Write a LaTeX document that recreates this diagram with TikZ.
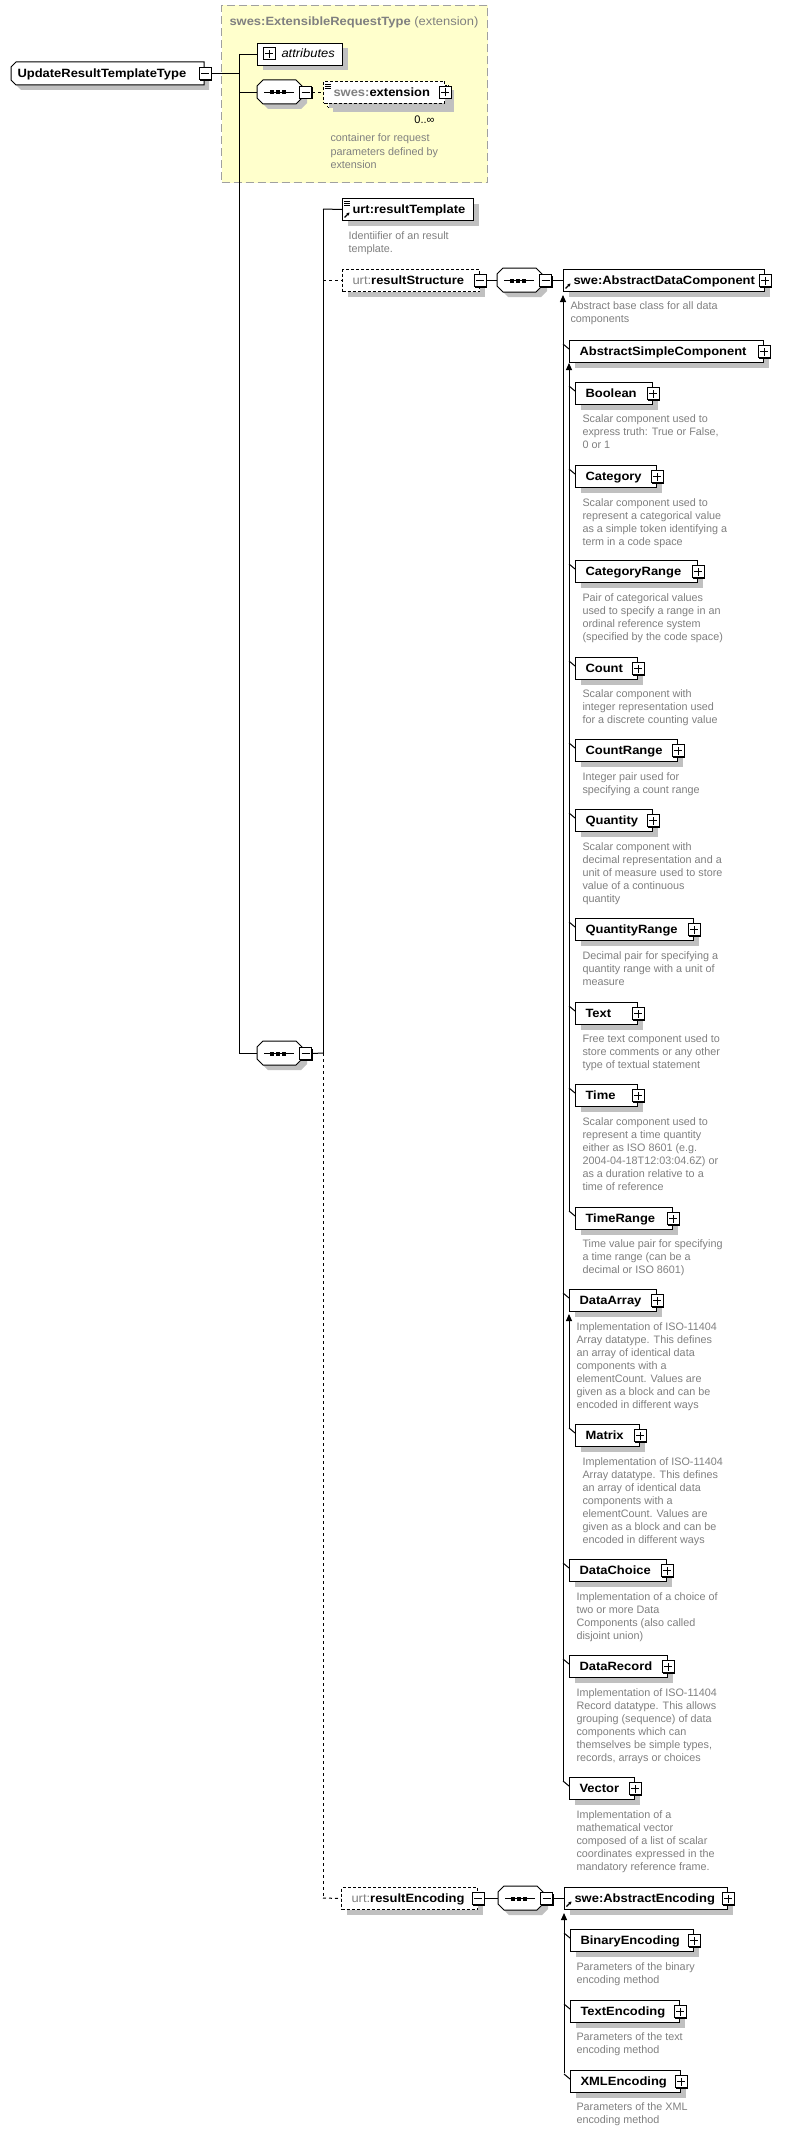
\documentclass[tikz,border=0pt]{standalone}
\usepackage{fontspec}
\setmainfont{Liberation Sans}
\newfontfamily\lblfont[FakeStretch=1.08]{Liberation Sans}
\usetikzlibrary{shadows,arrows.meta}
\definecolor{descgray}{RGB}{128,128,128}
\definecolor{shadowgray}{RGB}{192,192,192}
\definecolor{yel}{RGB}{255,255,204}
\definecolor{yelborder}{RGB}{160,160,160}
\hyphenpenalty=10000
\exhyphenpenalty=10000
\tikzset{
  sh/.style={drop shadow={shadow xshift=5pt,shadow yshift=-5pt,fill=shadowgray,opacity=1}},
  lbl/.style={font=\lblfont\fontsize{12}{14}\selectfont\bfseries},
  elbox/.style={draw=black, fill=white, sh, rectangle, minimum height=22pt, inner xsep=10pt, inner ysep=0pt, text height=9.5pt, text depth=2pt, align=left, lbl},
  optbox/.style={elbox, dash pattern=on 3pt off 2pt},
  pmsq/.style={draw=black, fill=white, minimum size=12pt, inner sep=0pt, rectangle, drop shadow={shadow xshift=1pt, shadow yshift=-1pt, fill=black, opacity=1}},
  desc/.style={text=descgray, font=\fontsize{10.8}{13}\selectfont, inner sep=0pt, anchor=base west},
  outline/.style={draw=black, fill=white, sh},
  optconn/.style={draw=black, dash pattern=on 3pt off 3pt},
  substline/.style={draw=black, -{Triangle[width=6pt,length=7pt]}},
}
\newcommand\elem[6][]{%
  \pgfmathsetmacro\elemtw{#5-20}%
  \node[elbox,minimum width=#5pt,text width=\elemtw pt,anchor=north west,#1] (#2) at (#3,#4) {\mbox{#6}};}
\newcommand\pmsign[3]{%
  \node[pmsq] (#1) at (#2) {};
  \draw[line width=1pt] ([xshift=2.5pt]#1.west) -- ([xshift=-2.5pt]#1.east);
  \ifnum#3=1 \draw[line width=1pt] ([yshift=2.5pt]#1.south) -- ([yshift=-2.5pt]#1.north);\fi}
\newcommand\desctext[4]{%
  \foreach \t [count=\i from 0] in {#4} {\node[desc] (#1\i) at (#2,{#3+13*\i}) {\t};}}
\newcommand\tickmark[1]{\draw ([shift={(-6,4)}]#1.north west) -- ([shift={(0,9)}]#1.north west);}
\newcommand\refarrow[1]{\draw[line width=1.2pt,-{Stealth[length=3pt,width=3.5pt]}] ([shift={(2.5,19.5)}]#1.north west) -- ([shift={(7.5,14.5)}]#1.north west);}
\newcommand\listicon[1]{\foreach \k in {0,2,4} {\draw[line width=0.8pt] ([shift={(2,3+\k)}]#1.north west) -- ([shift={(8,3+\k)}]#1.north west);}}
% sequence compositor: name, x, y (top-left); 45 x 24 octagon
\newcommand\seqnode[3]{%
  \path[outline] ({#2+6},#3) -- ({#2+39},#3) -- ({#2+45},{#3+6}) -- ({#2+45},{#3+18}) -- ({#2+39},{#3+24}) -- ({#2+6},{#3+24}) -- (#2,{#3+18}) -- (#2,{#3+6}) -- cycle;
  \node[minimum width=45pt, minimum height=24pt, inner sep=0pt, anchor=north west] (#1) at (#2,#3) {};
  \draw ([xshift=-16pt]#1.center) -- ([xshift=14pt]#1.center);
  \foreach \k in {-10,-4,2} {\fill ([xshift=\k pt,yshift=-2pt]#1.center) rectangle ++(4pt,4pt);}}
\begin{document}
\begin{tikzpicture}[x=1pt,y=-1pt,line width=1pt]
\fill[white] (0,0) rectangle (803,2130);
\useasboundingbox (0,0) rectangle (803,2130);

% extension base
\node[draw=yelborder, fill=yel, dash pattern=on 8pt off 4pt, minimum width=266pt, minimum height=177pt, inner sep=0pt, anchor=north west] (extbg) at (221,5) {};
\node[anchor=base west, text=descgray, lbl, inner sep=0pt] (exttitle) at (229,26) {swes:ExtensibleRequestType{\mdseries\ (extension)}};

% coordinates of main lines
\coordinate (v1top) at (239,54);
\coordinate (v1bot) at (239,1053);
\coordinate (v2top) at (323,209);
\coordinate (v2mid) at (323,1053);
\coordinate (v2bot) at (323,1898);
\draw (v1top) -- (v1bot);
\draw (v2top) -- (v2mid);
\draw[optconn] (v2mid) -- (v2bot);

% root
\path[outline] (16,62) -- (204,62) -- (204,85) -- (16,85) -- (11,80) -- (11,67) -- cycle;
\node[rectangle, minimum width=193pt, minimum height=23pt, inner xsep=6pt, inner ysep=0pt, text height=9.5pt, text depth=2pt, text width=181pt, align=left, lbl, anchor=north west] (root) at (11,62) {\mbox{UpdateResultTemplateType}};
\pmsign{rootpm}{root.east}{0}

% attributes
\node[elbox, minimum width=85pt, anchor=north west] (attr) at (257,43) {};
\node[anchor=base west, inner sep=0pt, font=\lblfont\fontsize{12}{14}\selectfont\itshape] (attrlbl) at (281,58) {attributes};
\node[draw=black, fill=white, minimum size=12pt, inner sep=0pt] (attrpm) at (269,54) {};
\draw ([xshift=2.5pt]attrpm.west) -- ([xshift=-2.5pt]attrpm.east);
\draw ([yshift=2.5pt]attrpm.south) -- ([yshift=-2.5pt]attrpm.north);

% sequence 1 and extension element
\seqnode{s1}{257}{80}
\pmsign{s1pm}{[xshift=2.5pt]s1.east}{0}
\node[optbox, minimum width=121pt, anchor=north west] (extback) at (327,85) {};
\elem[optbox, sh/.style={}]{ext}{323}{81}{121}{{\color{descgray}swes:}extension}
\pmsign{extpm}{ext.east}{1}
\listicon{ext}
\node[anchor=base east, inner sep=0pt, font=\fontsize{11}{13}\selectfont] (extocc) at (435,124) {0..∞};
\desctext{dext}{330}{142}{{container for request},{parameters defined by},{extension}}

% connectors top
\draw (rootpm.east) -- (rootpm.east -| v1top);
\draw (attr.west -| v1top) -- (attr.west);
\draw (s1.west -| v1top) -- (s1.west);
\draw[optconn] (s1pm.east) -- (ext.west);

% lower sequence
\seqnode{s3}{257}{1041}
\pmsign{s3pm}{[xshift=2.5pt]s3.east}{0}
\draw (s3.west -| v1top) -- (s3.west);
\draw (s3pm.east) -- (v2mid);

% resultTemplate
\elem{rt}{342}{198}{131}{urt:resultTemplate}
\listicon{rt}
\refarrow{rt}
\draw (v2top) -- (rt.west);
\desctext{drt}{348}{239}{{Identiifier of an result},{template.}}

% resultStructure
\elem[optbox]{rs}{342}{269}{137}{{\color{descgray}\mdseries urt:}resultStructure}
\pmsign{rspm}{rs.east}{0}
\draw[optconn] (rs.west -| v2top) -- (rs.west);
\seqnode{s2}{497}{268}
\pmsign{s2pm}{[xshift=2.5pt]s2.east}{0}
\draw (rspm.east) -- (s2.west);

% AbstractDataComponent
\elem{adc}{563}{269}{201}{swe:AbstractDataComponent}
\pmsign{adcpm}{adc.east}{1}
\refarrow{adc}
\draw (s2pm.east) -- (adc.west);
\desctext{dadc}{570}{309}{{Abstract base class for all data},{components}}

\coordinate (L1top) at (563,295);
\coordinate (L1bot) at (563,1781);
\draw[substline] (L1bot) -- (L1top);

% AbstractSimpleComponent
\elem{asc}{569}{340}{194}{AbstractSimpleComponent}
\pmsign{ascpm}{asc.east}{1}
\tickmark{asc}
\coordinate (L2top) at (569,363);
\coordinate (L2bot) at (569,1211);
\draw[substline] (L2bot) -- (L2top);

\elem{bool}{575}{382}{77}{Boolean}
\pmsign{boolpm}{bool.east}{1}\tickmark{bool}
\desctext{dbool}{582}{422}{{Scalar component used to},{express truth: True or False,},{0 or 1}}

\elem{cat}{575}{465}{81}{Category}
\pmsign{catpm}{cat.east}{1}\tickmark{cat}
\desctext{dcat}{582}{506}{{Scalar component used to},{represent a categorical value},{as a simple token identifying a},{term in a code space}}

\elem{catr}{575}{560}{122}{CategoryRange}
\pmsign{catrpm}{catr.east}{1}\tickmark{catr}
\desctext{dcatr}{582}{601}{{Pair of categorical values},{used to specify a range in an},{ordinal reference system},{(specified by the code space)}}

\elem{cnt}{575}{657}{62}{Count}
\pmsign{cntpm}{cnt.east}{1}\tickmark{cnt}
\desctext{dcnt}{582}{697}{{Scalar component with},{integer representation used},{for a discrete counting value}}

\elem{cntr}{575}{739}{102}{CountRange}
\pmsign{cntrpm}{cntr.east}{1}\tickmark{cntr}
\desctext{dcntr}{582}{780}{{Integer pair used for},{specifying a count range}}

\elem{qty}{575}{809}{77}{Quantity}
\pmsign{qtypm}{qty.east}{1}\tickmark{qty}
\desctext{dqty}{582}{850}{{Scalar component with},{decimal representation and a},{unit of measure used to store},{value of a continuous},{quantity}}

\elem{qtyr}{575}{918}{118}{QuantityRange}
\pmsign{qtyrpm}{qtyr.east}{1}\tickmark{qtyr}
\desctext{dqtyr}{582}{959}{{Decimal pair for specifying a},{quantity range with a unit of},{measure}}

\elem{txt}{575}{1002}{62}{Text}
\pmsign{txtpm}{txt.east}{1}\tickmark{txt}
\desctext{dtxt}{582}{1042}{{Free text component used to},{store comments or any other},{type of textual statement}}

\elem{tim}{575}{1084}{62}{Time}
\pmsign{timpm}{tim.east}{1}\tickmark{tim}
\desctext{dtim}{582}{1125}{{Scalar component used to},{represent a time quantity},{either as ISO 8601 (e.g.},{2004-04-18T12:03:04.6Z) or},{as a duration relative to a},{time of reference}}

\elem{timr}{575}{1207}{97}{TimeRange}
\pmsign{timrpm}{timr.east}{1}\tickmark{timr}
\desctext{dtimr}{582}{1247}{{Time value pair for specifying},{a time range (can be a},{decimal or ISO 8601)}}

% DataArray and Matrix
\elem{darr}{569}{1289}{87}{DataArray}
\pmsign{darrpm}{darr.east}{1}\tickmark{darr}
\desctext{ddarr}{576}{1330}{{Implementation of ISO-11404},{Array datatype. This defines},{an array of identical data},{components with a},{elementCount. Values are},{given as a block and can be},{encoded in different ways}}
\coordinate (L3top) at (569,1314);
\coordinate (L3bot) at (569,1428);
\draw[substline] (L3bot) -- (L3top);

\elem{mat}{575}{1424}{64}{Matrix}
\pmsign{matpm}{mat.east}{1}\tickmark{mat}
\desctext{dmat}{582}{1465}{{Implementation of ISO-11404},{Array datatype. This defines},{an array of identical data},{components with a},{elementCount. Values are},{given as a block and can be},{encoded in different ways}}

\elem{dch}{569}{1559}{97}{DataChoice}
\pmsign{dchpm}{dch.east}{1}\tickmark{dch}
\desctext{ddch}{576}{1600}{{Implementation of a choice of},{two or more Data},{Components (also called},{disjoint union)}}

\elem{drec}{569}{1655}{98}{DataRecord}
\pmsign{drecpm}{drec.east}{1}\tickmark{drec}
\desctext{ddrec}{576}{1696}{{Implementation of ISO-11404},{Record datatype. This allows},{grouping (sequence) of data},{components which can},{themselves be simple types,},{records, arrays or choices}}

\elem{vec}{569}{1777}{65}{Vector}
\pmsign{vecpm}{vec.east}{1}\tickmark{vec}
\desctext{dvec}{576}{1818}{{Implementation of a},{mathematical vector},{composed of a list of scalar},{coordinates expressed in the},{mandatory reference frame.}}

% resultEncoding
\elem[optbox]{re}{341}{1887}{136}{{\color{descgray}\mdseries urt:}resultEncoding}
\pmsign{repm}{re.east}{0}
\draw[optconn] (v2bot) -- (re.west);
\seqnode{s4}{498}{1886}
\pmsign{s4pm}{[xshift=2.5pt]s4.east}{0}
\draw (repm.east) -- (s4.west);

\elem{ae}{564}{1887}{163}{swe:AbstractEncoding}
\pmsign{aepm}{ae.east}{1}
\refarrow{ae}
\draw (s4pm.east) -- (ae.west);
\coordinate (L4top) at (564,1913);
\coordinate (L4bot) at (564,2073);
\draw[substline] (L4bot) -- (L4top);

\elem{benc}{570}{1929}{123}{BinaryEncoding}
\pmsign{bencpm}{benc.east}{1}\tickmark{benc}
\desctext{dbenc}{576}{1970}{{Parameters of the binary},{encoding method}}

\elem{tenc}{570}{2000}{109}{TextEncoding}
\pmsign{tencpm}{tenc.east}{1}\tickmark{tenc}
\desctext{dtenc}{576}{2040}{{Parameters of the text},{encoding method}}

\elem{xenc}{570}{2070}{110}{XMLEncoding}
\pmsign{xencpm}{xenc.east}{1}\tickmark{xenc}
\desctext{dxenc}{576}{2110}{{Parameters of the XML},{encoding method}}
\end{tikzpicture}
\end{document}
